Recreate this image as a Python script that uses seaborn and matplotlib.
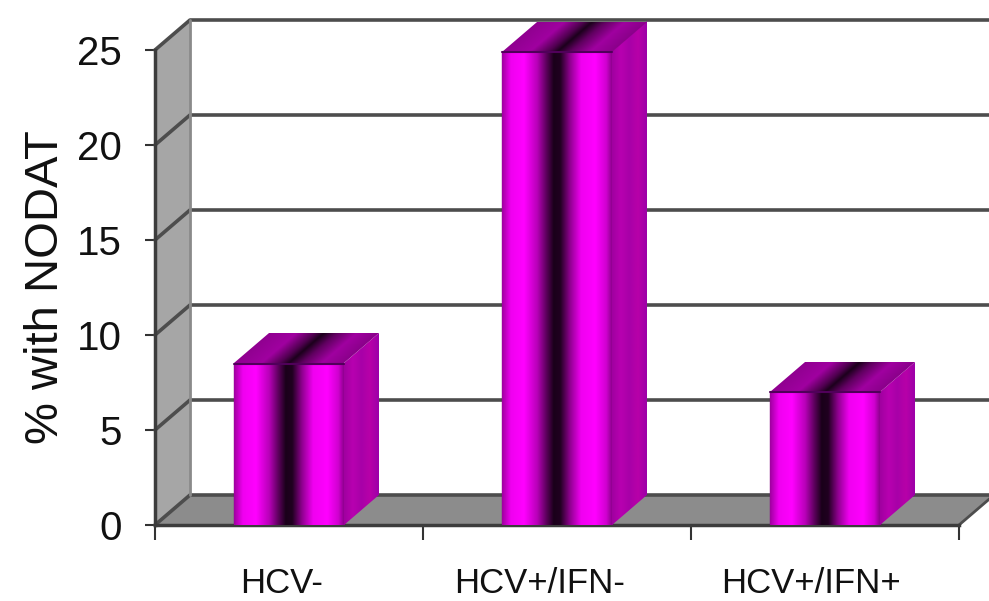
import numpy as np
import pandas as pd
import matplotlib
matplotlib.use("Agg")
import matplotlib.pyplot as plt
from matplotlib.colors import LinearSegmentedColormap
from matplotlib.patches import Polygon
from matplotlib.transforms import Affine2D, ScaledTranslation
import seaborn as sns

categories = ["HCV-", "HCV+/IFN-", "HCV+/IFN+"]
values = [8.5, 24.9, 7.0]
y_ticks = [0, 5, 10, 15, 20, 25]
y_label = "% with NODAT"
label_shift_px = [-7, -17, -14]

sns.set_theme(style="white")
plt.rcParams["font.family"] = ["Liberation Sans", "DejaVu Sans"]

W, H = 989, 601
fig = plt.figure(figsize=(W / 100, H / 100), dpi=100, facecolor="white")
ax = fig.add_axes([155 / W, (H - 525) / H, (959 - 155) / W, (525 - 50) / H])

df = pd.DataFrame({"group": categories, "pct": values})
bar_w = 0.41
sns.barplot(data=df, x="group", y="pct", ax=ax, color="#ff00ff", width=bar_w,
            saturation=1, zorder=5)

ax.set_xlim(-0.5, 2.5)
ax.set_ylim(0, 25)
dx, dy = 35 / 268, 30 / 19   # depth of the 3-D projection in data units

# walls, floor, gridlines
wall = "#a6a6a6"; floor = "#8c8c8c"; line = "#4d4d4d"
ax.add_patch(Polygon([(-0.5, 0), (-0.5 + dx, dy), (-0.5 + dx, 25 + dy), (-0.5, 25)],
                     closed=True, fc=wall, ec="none", clip_on=False, zorder=1))
ax.add_patch(Polygon([(-0.5, 0), (2.5, 0), (2.5 + dx, dy), (-0.5 + dx, dy)],
                     closed=True, fc=floor, ec="none", clip_on=False, zorder=1))
for t in y_ticks:
    ax.plot([-0.5, -0.5 + dx, 2.5 + dx], [t, t + dy, t + dy], color=line, lw=2.6,
            clip_on=False, zorder=2, solid_joinstyle="round")
ax.plot([-0.5 + dx, -0.5 + dx], [dy, 25 + dy], color="#8a8a8a", lw=2, clip_on=False, zorder=2)
ax.plot([2.5, 2.5 + dx], [0, dy], color=line, lw=2, clip_on=False, zorder=2)

# bars with banded cylinder-like shading
stops = [(0.0, "#a000a0"), (0.08, "#f000f0"), (0.2, "#ff00ff"), (0.32, "#b800b8"),
         (0.4, "#600060"), (0.47, "#1a001a"), (0.53, "#200020"), (0.62, "#900090"),
         (0.72, "#f000f0"), (0.85, "#ff00ff"), (0.95, "#d000d0"), (1.0, "#900090")]
front = LinearSegmentedColormap.from_list("front", stops)
top_stops = [(0.0, "#900090"), (0.25, "#a000a0"), (0.42, "#500050"), (0.5, "#1c001c"),
             (0.62, "#600060"), (0.8, "#a000a0"), (1.0, "#8a008a")]
topc = LinearSegmentedColormap.from_list("top", top_stops)
side = LinearSegmentedColormap.from_list("side", ["#a000a0", "#b800b0", "#a800a8", "#b800a8", "#9c00a8"])
grad = np.linspace(0, 1, 256)[None, :]


def face(cmap, a, b, c, d, e, f):
    """Draw the gradient on the parallelogram given by a unit-square shear."""
    im = ax.imshow(grad, extent=(0, 1, 0, 1), aspect="auto", cmap=cmap,
                   interpolation="bilinear", zorder=6)
    im.set_transform(Affine2D.from_values(a, b, c, d, e, f) + ax.transData)
    im.set_clip_box(fig.bbox)
    return im


for i, (bar, v) in enumerate(zip(ax.patches, values)):
    l, r = i - bar_w / 2, i + bar_w / 2
    bar.set_edgecolor("#80007f"); bar.set_linewidth(1)
    face(front, r - l, 0, 0, v, l, 0)          # front
    face(side, dx, dy, 0, v, r, 0)             # right side
    face(topc, r - l, 0, dx, dy, l, v)         # top
    ax.plot([l, r], [v, v], color="#50005a", lw=1.5, zorder=7, clip_on=False)

ax.set_xlim(-0.5, 2.5)
ax.set_ylim(0, 25)

# axes
for s in ["top", "right"]:
    ax.spines[s].set_visible(False)
for s in ["left", "bottom"]:
    ax.spines[s].set_color("#3c3c3c")
    ax.spines[s].set_linewidth(2.5)
    ax.spines[s].set_zorder(4)
ax.set_yticks(y_ticks)
ax.tick_params(axis="y", labelsize=29, length=7, width=1.5, color="#333333",
               labelcolor="#111111", pad=17, left=True)
ax.set_xticks(range(len(categories)))
ax.set_xticklabels(categories)
ax.tick_params(axis="x", which="major", labelsize=25, length=0, labelcolor="#111111", pad=30)
ax.set_xticks([-0.5, 0.5, 1.5, 2.5], minor=True)
ax.tick_params(axis="x", which="minor", length=11, width=1.5, color="#333333", bottom=True)
for lab, px in zip(ax.get_xticklabels(), label_shift_px):
    lab.set_transform(lab.get_transform() + ScaledTranslation(px / 100, 0, fig.dpi_scale_trans))
ax.set_xlabel("")
ax.set_ylabel(y_label, fontsize=34, color="#111111", labelpad=6)

fig.savefig("out.png", dpi=100, facecolor="white")
